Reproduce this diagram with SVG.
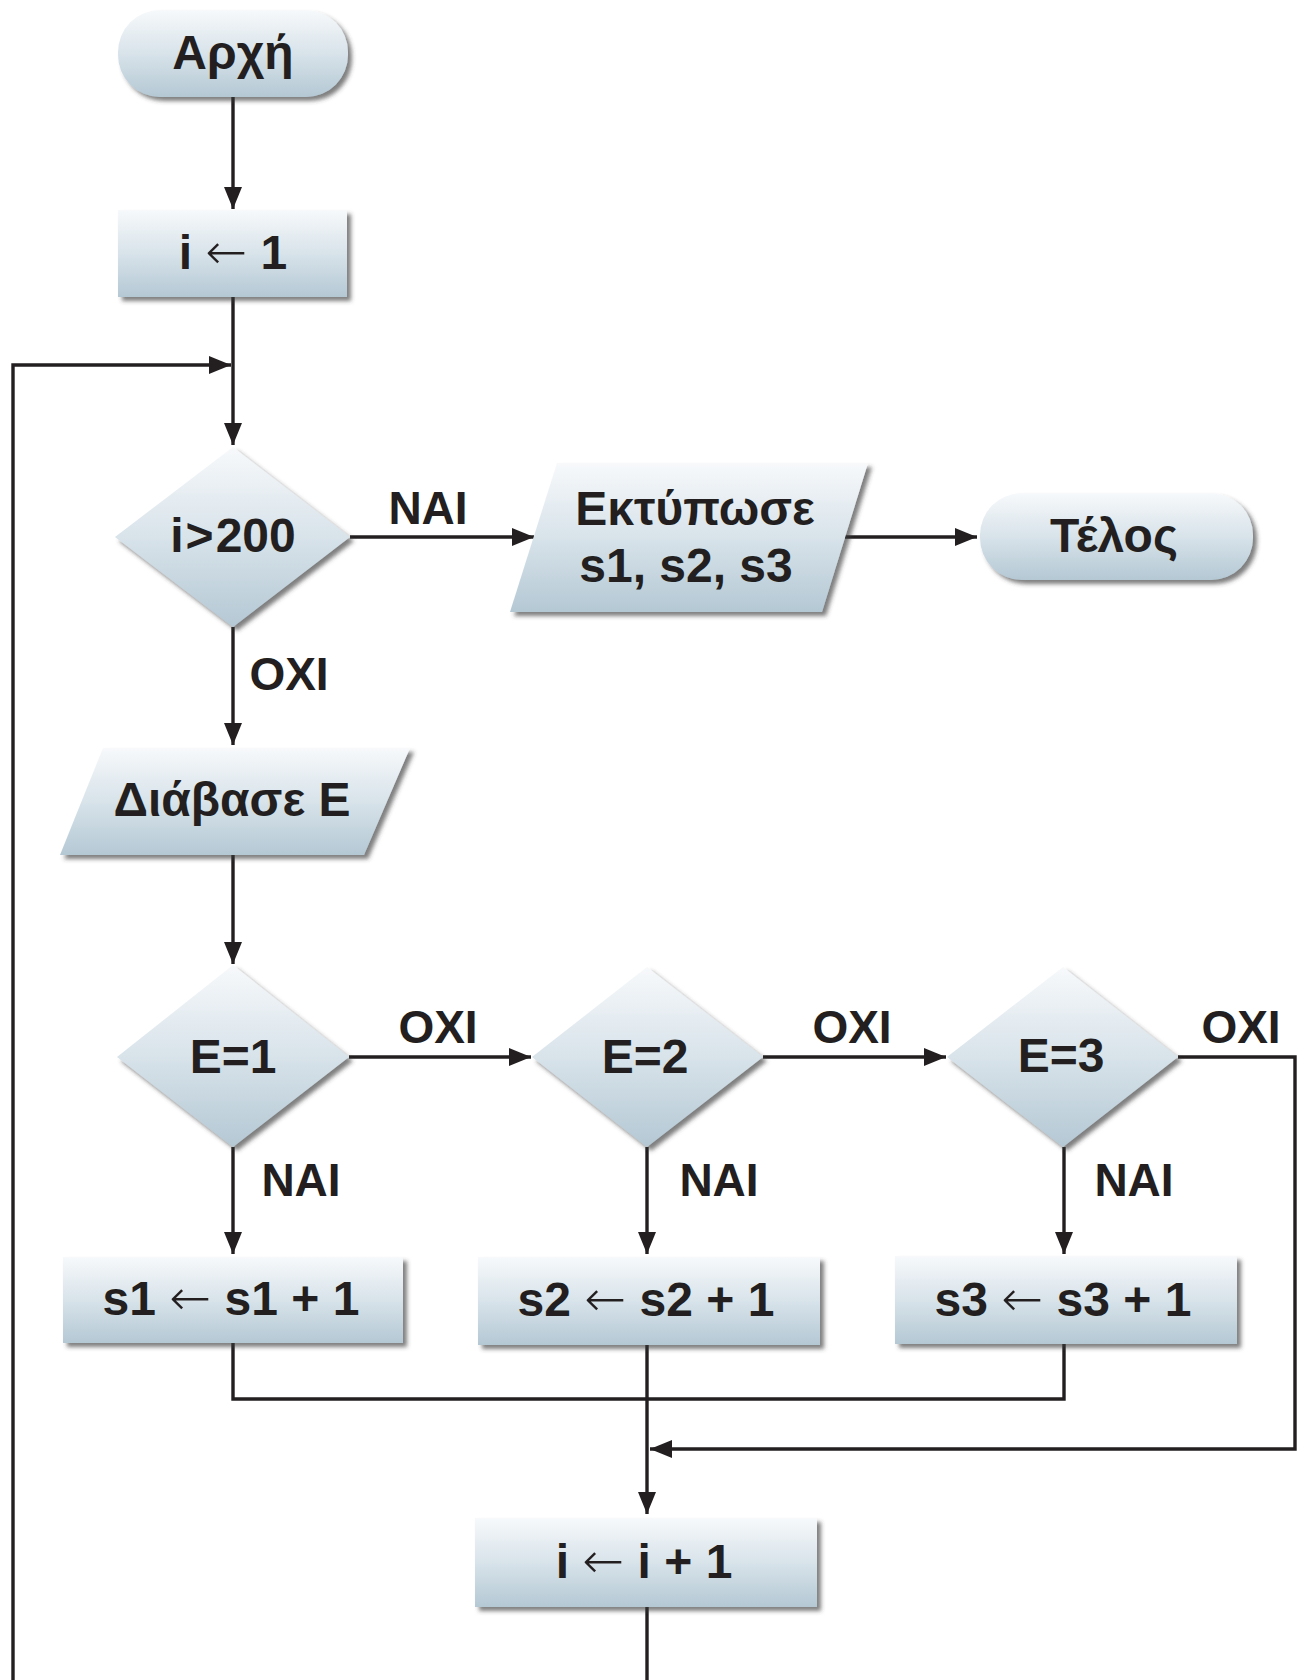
<svg xmlns="http://www.w3.org/2000/svg" width="1297" height="1680" viewBox="0 0 1297 1680">
  <defs>
    <linearGradient id="fill" x1="0" y1="0" x2="0" y2="1">
      <stop offset="0" stop-color="#f7f9fb"/>
      <stop offset="0.5" stop-color="#d8e3ea"/>
      <stop offset="1" stop-color="#b4c8d4"/>
    </linearGradient>
    <filter id="shadow" x="-10%" y="-10%" width="125%" height="130%">
      <feDropShadow dx="4" dy="4" stdDeviation="2" flood-color="#3a3a3a" flood-opacity="0.65"/>
    </filter>
    <marker id="arrow" viewBox="0 0 22 18" refX="22" refY="9" markerWidth="22" markerHeight="18" markerUnits="userSpaceOnUse" orient="auto">
      <path d="M0,0 L22,9 L0,18 Z" fill="#231f20"/>
    </marker>
  </defs>
  <style>
    .shape { fill: url(#fill); filter: url(#shadow); }
    .txt { font-family: "Liberation Sans", Arial, sans-serif; font-weight: bold; font-size: 48px; fill: #231f20; text-anchor: middle; }
    .lbl { font-family: "Liberation Sans", Arial, sans-serif; font-weight: bold; font-size: 46px; fill: #231f20; text-anchor: middle; }
    .thin { font-family: "DejaVu Sans", sans-serif; font-weight: 200; font-size: 50px; }
    .line { fill: none; stroke: #231f20; stroke-width: 3.4; }
  </style>

  <!-- connectors -->
  <g id="connectors">
    <path class="line" d="M233,97 V209" marker-end="url(#arrow)"/>
    <path class="line" d="M233,297 V445" marker-end="url(#arrow)"/>
    <path class="line" d="M13,1680 V365 H231" marker-end="url(#arrow)"/>
    <path class="line" d="M350,537 H534" marker-end="url(#arrow)"/>
    <path class="line" d="M845,537 H977" marker-end="url(#arrow)"/>
    <path class="line" d="M233,627 V745" marker-end="url(#arrow)"/>
    <path class="line" d="M233,855 V964" marker-end="url(#arrow)"/>
    <path class="line" d="M349,1057 H531" marker-end="url(#arrow)"/>
    <path class="line" d="M763,1057 H946" marker-end="url(#arrow)"/>
    <path class="line" d="M1178,1057 H1295 V1449 H650" marker-end="url(#arrow)"/>
    <path class="line" d="M233,1147 V1254" marker-end="url(#arrow)"/>
    <path class="line" d="M647,1147 V1254" marker-end="url(#arrow)"/>
    <path class="line" d="M1064,1147 V1254" marker-end="url(#arrow)"/>
    <path class="line" d="M233,1343 V1399 H1064 V1344"/>
    <path class="line" d="M647,1345 V1514" marker-end="url(#arrow)"/>
    <path class="line" d="M647,1607 V1680"/>
  </g>

  <!-- labels on the branches -->
  <g id="labels">
    <text class="lbl" x="428" y="524">ΝΑΙ</text>
    <text class="lbl" x="289" y="690">ΟΧΙ</text>
    <text class="lbl" x="438" y="1043">ΟΧΙ</text>
    <text class="lbl" x="852" y="1043">ΟΧΙ</text>
    <text class="lbl" x="1241" y="1043">ΟΧΙ</text>
    <text class="lbl" x="301" y="1196">ΝΑΙ</text>
    <text class="lbl" x="719" y="1196">ΝΑΙ</text>
    <text class="lbl" x="1134" y="1196">ΝΑΙ</text>
  </g>

  <g id="start">
    <rect class="shape" x="118" y="10" width="230" height="87" rx="42" ry="42"/>
    <text class="txt" x="233" y="69">Αρχή</text>
  </g>

  <g id="init">
    <rect class="shape" x="118" y="210" width="229" height="87"/>
    <text class="txt" x="233" y="269">i <tspan class="thin">←</tspan> 1</text>
  </g>

  <g id="cond-i">
    <polygon class="shape" points="233,447 350,537 233,627 115,537"/>
    <text class="txt" x="233" y="552">i<tspan dx="2">&gt;</tspan><tspan dx="2">200</tspan></text>
  </g>

  <g id="print">
    <polygon class="shape" points="557,463 868,463 822,612 510,612"/>
    <text class="txt" x="695" y="525">Εκτύπωσε</text>
    <text class="txt" x="686" y="582">s1, s2, s3</text>
  </g>

  <g id="end">
    <rect class="shape" x="980" y="493" width="273" height="87" rx="42" ry="42"/>
    <text class="txt" x="1114" y="552">Τέλος</text>
  </g>

  <g id="read">
    <polygon class="shape" points="103,748 410,748 364,855 60,855"/>
    <text class="txt" x="232" y="816">Διάβασε Ε</text>
  </g>

  <g id="cond-e1">
    <polygon class="shape" points="233,965 349,1057 233,1147 117,1057"/>
    <text class="txt" x="233" y="1073">Ε=1</text>
  </g>

  <g id="cond-e2">
    <polygon class="shape" points="647,967 763,1057 647,1147 532,1057"/>
    <text class="txt" x="645" y="1073">Ε=2</text>
  </g>

  <g id="cond-e3">
    <polygon class="shape" points="1063,967 1178,1057 1063,1147 947,1057"/>
    <text class="txt" x="1061" y="1072">Ε=3</text>
  </g>

  <g id="inc-s1">
    <rect class="shape" x="63" y="1257" width="340" height="86"/>
    <text class="txt" x="231" y="1315">s1 <tspan class="thin">←</tspan> s1 + 1</text>
  </g>

  <g id="inc-s2">
    <rect class="shape" x="478" y="1257" width="342" height="88"/>
    <text class="txt" x="646" y="1316">s2 <tspan class="thin">←</tspan> s2 + 1</text>
  </g>

  <g id="inc-s3">
    <rect class="shape" x="895" y="1256" width="342" height="88"/>
    <text class="txt" x="1063" y="1316">s3 <tspan class="thin">←</tspan> s3 + 1</text>
  </g>

  <g id="inc-i">
    <rect class="shape" x="475" y="1518" width="342" height="89"/>
    <text class="txt" x="644" y="1578">i <tspan class="thin">←</tspan> i + 1</text>
  </g>
</svg>
